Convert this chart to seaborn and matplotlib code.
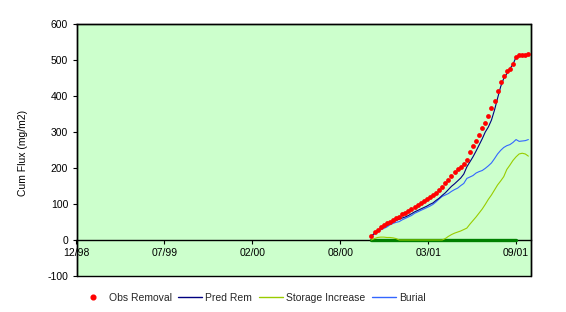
import numpy as np
import pandas as pd
import matplotlib
matplotlib.use('Agg')
import matplotlib.pyplot as plt
import matplotlib.dates as mdates
from matplotlib.lines import Line2D
from matplotlib.patches import Rectangle
import seaborn as sns

sns.set_theme(style='white')
plt.rcParams['font.family'] = ['Liberation Sans', 'DejaVu Sans']

# ---------------- data ----------------
first_obs = '2000-11-01'
n_weeks = 52

obs_removal = [12, 21, 29, 35, 42, 46, 51, 56, 61, 65, 71, 75, 81, 86, 92, 97,
               103, 108, 114, 119, 125, 131, 140, 147, 158, 168, 178, 189, 197, 204,
               212, 222, 244, 261, 274, 292, 311, 326, 344, 367, 387, 414, 439, 456,
               469, 474, 489, 509, 514, 514, 514, 517]

pred_rem = [11, 19, 26, 32, 36, 40, 46, 50, 54, 58, 61, 64, 68, 73, 78, 82,
            86, 90, 94, 99, 103, 110, 116, 124, 131, 140, 149, 156, 164, 172,
            183, 203, 217, 231, 247, 264, 281, 300, 314, 333, 361, 394, 426, 449,
            462, 476, 488, 508]

storage_increase = [0, 4, 7, 8, 8, 7, 7, 6, 4, 0, 0, 0, 0, 0, 0, 0,
                    0, 0, 0, 0, 0, 0, 0, 0, 4, 10, 15, 19, 22, 25,
                    29, 33, 44, 54, 64, 75, 86, 99, 113, 125, 139, 153, 164, 176,
                    196, 208, 221, 231, 239, 241, 239, 233]

burial = [10, 17, 24, 28, 32, 36, 42, 46, 49, 51, 56, 60, 64, 68, 74, 78,
          82, 86, 90, 94, 99, 106, 114, 121, 125, 129, 135, 140, 144, 151,
          157, 171, 175, 179, 186, 190, 193, 199, 206, 214, 226, 239, 249, 257,
          262, 265, 271, 279, 274, 275, 276, 279]

zero_series = [0] * 48

axis_start = '1998-12-31'
axis_days = 1034
tick_step_days = 200
tick_labels = ['12/98', '07/99', '02/00', '08/00', '03/01', '09/01']
y_ticks = [-100, 0, 100, 200, 300, 400, 500, 600]

# ---------------- frame ----------------
dates = pd.date_range(first_obs, periods=n_weeks, freq='7D')
df = pd.DataFrame({'date': dates, 'obs': obs_removal,
                   'storage': storage_increase, 'burial': burial})
df_pred = pd.DataFrame({'date': dates[:len(pred_rem)], 'pred': pred_rem,
                        'zero': zero_series})

fig = plt.figure(figsize=(5.66, 3.12), dpi=100)
ax = fig.add_axes([76.5 / 566, 1 - 276 / 312, (531 - 76.5) / 566, (276 - 24) / 312])
ax.set_facecolor('#CCFFCC')
fig.patch.set_facecolor('white')

sns.lineplot(data=df_pred, x='date', y='zero', color='#008000', linewidth=2.4,
             ax=ax, legend=False, zorder=2)
sns.lineplot(data=df, x='date', y='storage', color='#99CC00', linewidth=0.8,
             ax=ax, legend=False, zorder=3)
sns.lineplot(data=df, x='date', y='burial', color='#3366FF', linewidth=0.8,
             ax=ax, legend=False, zorder=3)
sns.lineplot(data=df_pred, x='date', y='pred', color='#000080', linewidth=0.8,
             ax=ax, legend=False, zorder=4)
sns.scatterplot(data=df, x='date', y='obs', color='#FF0000', s=12, linewidth=0,
                ax=ax, legend=False, zorder=5)

origin = pd.Timestamp(axis_start)
ax.set_xlim(origin, origin + pd.Timedelta(days=axis_days))
ax.set_ylim(-100, 600)
tick_pos = [origin + pd.Timedelta(days=tick_step_days * k) for k in range(len(tick_labels))]
ax.set_xticks(tick_pos)
ax.set_xticklabels(tick_labels)
ax.set_yticks(y_ticks)
ax.set_yticklabels([str(v) for v in y_ticks])
ax.set_xlabel('')
ax.set_ylabel('Cum Flux (mg/m2)', fontsize=7.5, color='black')
ax.yaxis.set_label_coords(-0.106, 0.49)

ax.spines['bottom'].set_position(('data', 0))
for s in ['left', 'right', 'top', 'bottom']:
    ax.spines[s].set_color('black')
    ax.spines[s].set_linewidth(1.0)
ax.spines['bottom'].set_zorder(1)
ax.add_patch(Rectangle((0, 0), 1, 1, transform=ax.transAxes, fill=False,
                       edgecolor='black', linewidth=1.0, clip_on=False, zorder=6))

ax.tick_params(axis='x', direction='out', length=3, width=0.8, pad=2.5,
               labelsize=7.5, colors='black', bottom=True)
ax.tick_params(axis='y', direction='out', length=3, width=0.8, pad=3,
               labelsize=7.5, colors='black', left=True)
ax.grid(False)

handles = [
    Line2D([], [], marker='o', color='#FF0000', linestyle='none', markersize=3.4),
    Line2D([], [], color='#000080', linewidth=1.0),
    Line2D([], [], color='#99CC00', linewidth=1.0),
    Line2D([], [], color='#3366FF', linewidth=1.0),
]
labels = ['Obs Removal', 'Pred Rem', 'Storage Increase', 'Burial']
fig.legend(handles, labels, loc='center', bbox_to_anchor=(253.5 / 566, 1 - 298 / 312),
           ncol=4, frameon=False, fontsize=7.5, handlelength=2.3,
           handletextpad=0.35, columnspacing=0.6, borderpad=0)

fig.savefig('out.png', dpi=100)
